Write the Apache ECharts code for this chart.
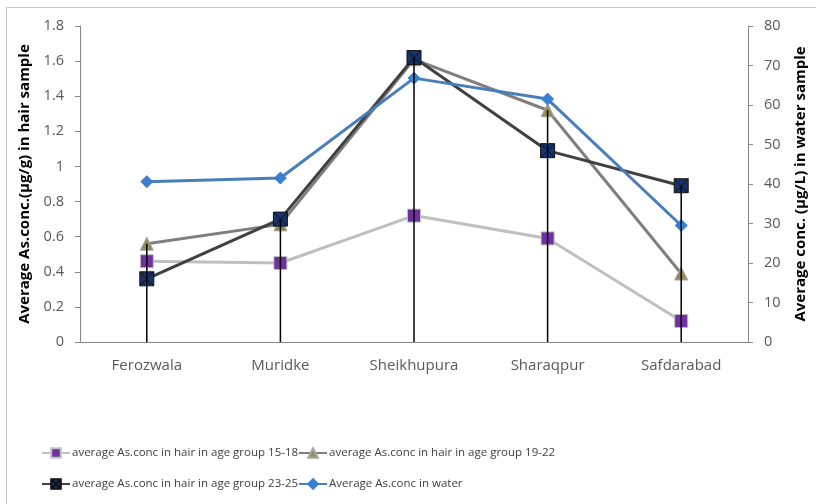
<!DOCTYPE html>
<html>
<head>
<meta charset="utf-8">
<script src="https://cdn.jsdelivr.net/npm/echarts@6/dist/echarts.min.js"></script>
<style>
  html, body { margin: 0; padding: 0; background: #fff; }
  #chart { width: 816px; height: 504px; }
</style>
</head>
<body>
<div id="chart"></div>
<script>
// Sampling sites
const sites = ['Ferozwala', 'Muridke', 'Sheikhupura', 'Sharaqpur', 'Safdarabad'];

// Average arsenic in hair (µg/g) per age group
const hair15to18 = [0.46, 0.45, 0.72, 0.59, 0.12];
const hair19to22 = [0.56, 0.67, 1.61, 1.32, 0.39];
const hair23to25 = [0.36, 0.70, 1.62, 1.09, 0.89];

// Average arsenic in water (µg/L)
const water = [40.6, 41.5, 66.8, 61.5, 29.5];

// Series names
const names = [
  'average As.conc in hair in age group 15-18',
  'average As.conc in hair in age group 19-22',
  'average As.conc in hair in age group 23-25',
  'Average As.conc in water'
];

// Drop lines run from the category axis up to the highest hair value
const dropTops = sites.map((_, i) => Math.max(hair15to18[i], hair19to22[i], hair23to25[i]));

const font = '"Open Sans", Lato, sans-serif';
const textColor = '#595959';
const axisGray = '#868686';

const boxX = 'path://M0,0H10V10H0Z M0,0L10,10 M10,0L0,10';

const chart = echarts.init(document.getElementById('chart'), null, { renderer: 'canvas' });

const legendText = { fontFamily: font, fontSize: 11.5, color: '#404040', padding: [0, 0, 0, -3] };
const axisName = { fontWeight: 'bold', fontSize: 15, color: '#000', fontFamily: font };

chart.setOption({
  animation: false,
  backgroundColor: '#fff',
  textStyle: { fontFamily: font },
  graphic: [{
    type: 'rect',
    shape: { x: 6.5, y: 7.5, width: 830, height: 520 },
    style: { fill: 'none', stroke: '#c8c8c8', lineWidth: 1 },
    silent: true, z: -1
  }],
  grid: { left: 80, right: 61, top: 26, bottom: 162, containLabel: false },
  legend: [{
    data: [names[0], names[1]],
    left: 36, top: 442,
    itemWidth: 28, itemHeight: 12, itemGap: 0,
    textStyle: legendText
  }, {
    data: [names[2], names[3]],
    left: 36, top: 473,
    itemWidth: 28, itemHeight: 12, itemGap: 0,
    textStyle: legendText
  }],
  xAxis: {
    type: 'category',
    data: sites,
    boundaryGap: true,
    axisLine: { lineStyle: { color: axisGray, width: 1 } },
    axisTick: { show: false },
    axisLabel: { color: textColor, fontSize: 15, margin: 16, fontFamily: font },
    splitLine: { show: false }
  },
  yAxis: [{
    type: 'value',
    min: 0, max: 1.8, interval: 0.2,
    name: 'Average As.conc.(µg/g) in hair sample',
    nameLocation: 'middle',
    nameGap: 48,
    nameTextStyle: axisName,
    axisLine: { show: true, lineStyle: { color: axisGray } },
    axisTick: { show: true, length: 5, lineStyle: { color: axisGray } },
    axisLabel: { color: textColor, fontSize: 14.5, margin: 16, fontFamily: font },
    splitLine: { show: false }
  }, {
    type: 'value',
    min: 0, max: 80, interval: 10,
    name: 'Average conc. (µg/L) in water sample',
    nameLocation: 'middle',
    nameGap: 45,
    nameRotate: 90,
    nameTextStyle: axisName,
    axisLine: { show: true, lineStyle: { color: axisGray } },
    axisTick: { show: true, length: 5, lineStyle: { color: axisGray } },
    axisLabel: { color: textColor, fontSize: 14.5, margin: 16, fontFamily: font },
    splitLine: { show: false }
  }],
  series: [{
    name: names[0],
    type: 'line',
    yAxisIndex: 0,
    data: hair15to18,
    symbol: 'rect', symbolSize: 13,
    lineStyle: { color: '#bfbfbf', width: 3 },
    itemStyle: { color: '#7030a0', borderColor: '#c0c0c0', borderWidth: 1 },
    z: 2
  }, {
    name: names[1],
    type: 'line',
    yAxisIndex: 0,
    data: hair19to22,
    symbol: 'triangle', symbolSize: 13,
    lineStyle: { color: '#7f7f7f', width: 3 },
    itemStyle: { color: '#948a54', borderColor: '#a6a6a6', borderWidth: 1 },
    z: 3
  }, {
    name: names[2],
    type: 'line',
    yAxisIndex: 0,
    data: hair23to25,
    symbol: boxX, symbolSize: 14, symbolKeepAspect: true,
    lineStyle: { color: '#404040', width: 3 },
    itemStyle: { color: '#17336b', borderColor: '#111', borderWidth: 1 },
    z: 4
  }, {
    name: names[3],
    type: 'line',
    yAxisIndex: 1,
    data: water,
    symbol: 'diamond', symbolSize: 12,
    lineStyle: { color: '#4a7ebb', width: 3 },
    itemStyle: { color: '#3a7fd0', borderColor: '#3a7fd0', borderWidth: 1 },
    z: 5
  }, {
    name: 'drop lines',
    type: 'bar',
    yAxisIndex: 0,
    data: dropTops,
    barWidth: 1.5,
    itemStyle: { color: '#000' },
    silent: true,
    z: 6
  }]
});
</script>
</body>
</html>
